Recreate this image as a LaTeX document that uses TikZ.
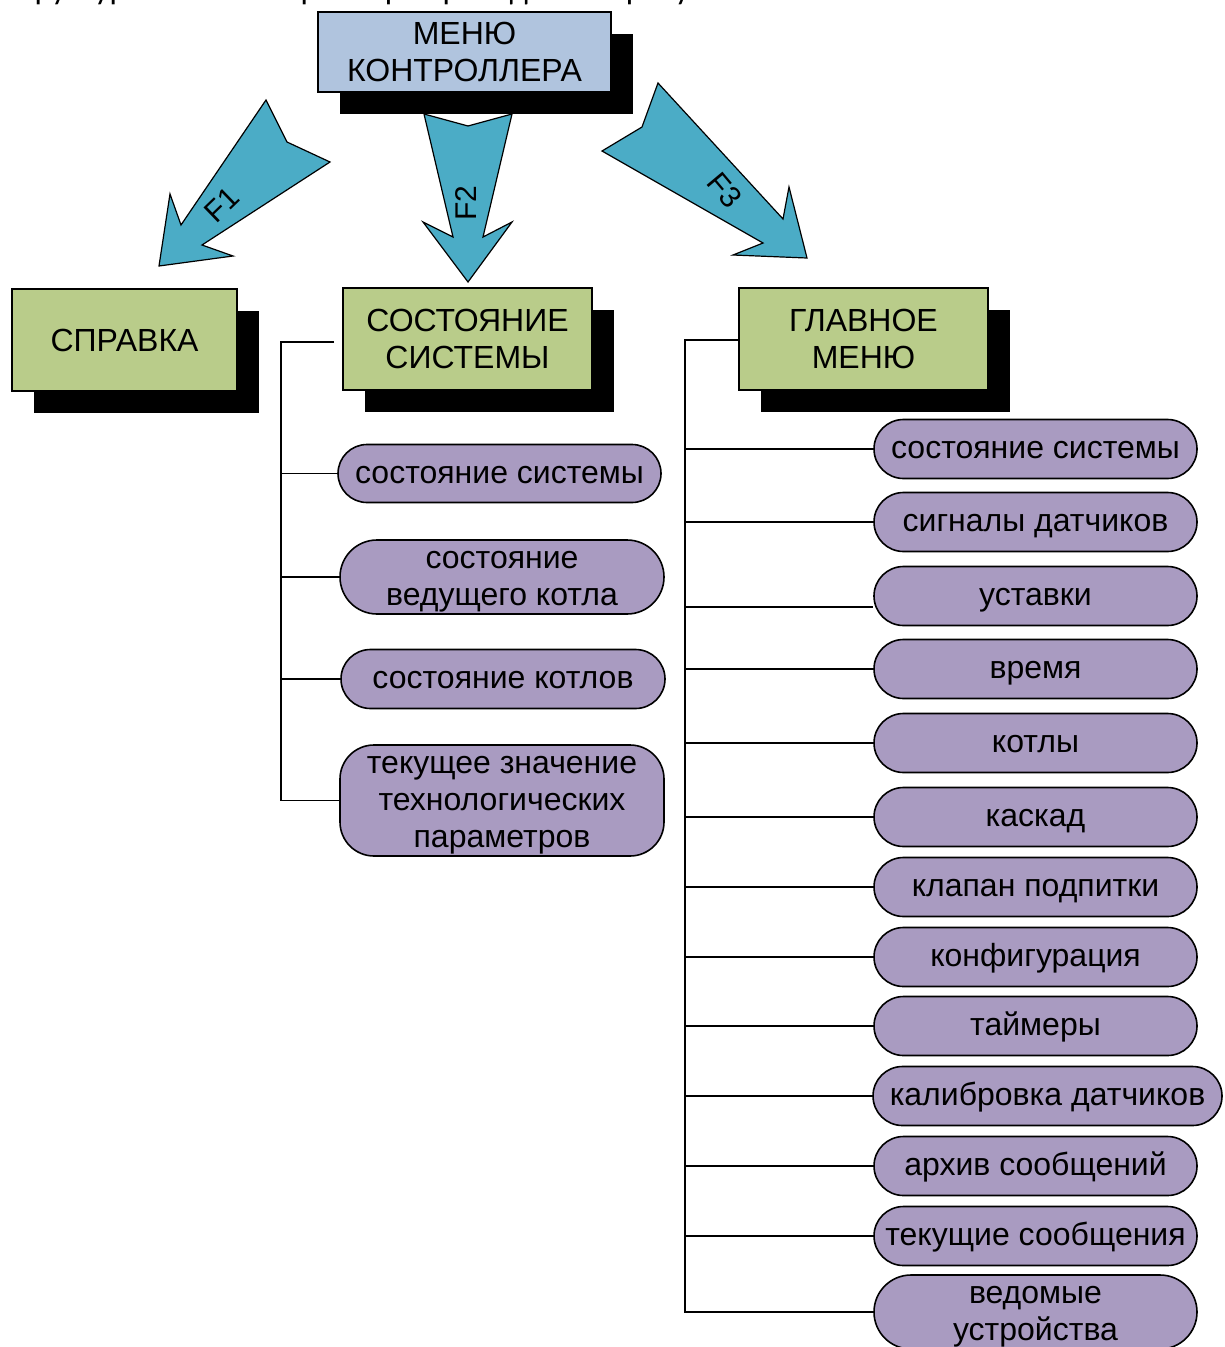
\documentclass[tikz,border=0pt]{standalone}
\usepackage{fontspec}
\setmainfont{Liberation Sans}
\newfontfamily\bodyfont{Carlito}
\usetikzlibrary{shapes.misc,shadows}
\definecolor{headblue}{RGB}{176,196,222}
\definecolor{boxgreen}{RGB}{185,204,138}
\definecolor{pilllilac}{RGB}{169,155,193}
\definecolor{arrowcyan}{RGB}{75,172,198}
\pgfdeclarelayer{background}
\pgfsetlayers{background,main}
% multi-line pill text, top-aligned on its first baseline, one strut per line
\newcommand{\pilllines}[1]{\begin{tabular}[t]{@{}c@{}}#1\end{tabular}}
\begin{document}
\begin{tikzpicture}[x=1pt,y=-1pt,
  lbl/.style={font=\fontsize{32}{37}\selectfont, align=center, text=black},
  menubox/.style={lbl, draw=black, line width=1.3pt, inner sep=0pt,
    drop shadow={shadow xshift=22pt, shadow yshift=-22pt, fill=black, opacity=1}},
  headbox/.style={menubox, fill=headblue},
  itembox/.style={menubox, fill=boxgreen},
  pillbase/.style={lbl, draw=black, line width=1.6pt, fill=pilllilac, inner sep=0pt,
    minimum width=323pt, minimum height=59pt, text height=28.3pt, text depth=8.7pt},
  pill/.style={pillbase, rounded rectangle},
  twolines/.style={text depth=45.7pt},
  threelines/.style={text depth=82.7pt},
  tallpill/.style={pillbase, rectangle, rounded corners=34pt},
  blockarrow/.style={draw=black, line width=1.2pt, fill=arrowcyan, line join=miter},
  keylbl/.style={font=\fontsize{30}{36}\selectfont, inner sep=0pt},
  conn/.style={draw=black, line width=1.5pt}]
\useasboundingbox (0,0) rectangle (1224,1347);
\clip (0,0) rectangle (1224,1347);

% caption line running off the top edge
\node[anchor=base west, inner sep=0pt, font=\bodyfont\fontsize{33}{40}\selectfont] (caption) at (4,-1)
  {Структура меню контроллера приведена на рисунке};

% function-key block arrows
\draw[blockarrow] (266,100) -- (287,142) -- (330,162) -- (202,245) -- (233,256)
  -- (159,266) -- (170,194) -- (181,225) -- cycle;
\draw[blockarrow] (424,114) -- (468,126) -- (512,114) -- (483,237) -- (512,222)
  -- (468,282) -- (423,222) -- (453,237) -- cycle;
\draw[blockarrow] (658,83) -- (642,127) -- (602,151) -- (763,243) -- (733,255)
  -- (807,258) -- (789,187) -- (783,219) -- cycle;
\node[keylbl, rotate=44] (f1) at (222,205) {F1};
\node[keylbl, rotate=90] (f2) at (466,203) {F2};
\node[keylbl, rotate=-50] (f3) at (725,190) {F3};

% top level
\node[headbox, minimum width=293pt, minimum height=80pt] (menu) at (464.5,52) {МЕНЮ\\КОНТРОЛЛЕРА};

% second level
\node[itembox, minimum width=225pt, minimum height=102pt] (help) at (124.5,340) {СПРАВКА};
\node[itembox, minimum width=249pt, minimum height=102pt] (sys) at (467.5,339) {СОСТОЯНИЕ\\СИСТЕМЫ};
\node[itembox, minimum width=249pt, minimum height=102pt] (main) at (863.5,339) {ГЛАВНОЕ\\МЕНЮ};

% items of "system state"
\node[pill, minimum height=58pt] (s1) at (499.5,473.5) {состояние системы};
\node[pill, twolines, minimum width=324pt, minimum height=70pt] (s2) at (502,577)
  {\pilllines{состояние\\ведущего котла}};
\node[pill, minimum width=324pt] (s3) at (503,679) {состояние котлов};
\node[tallpill, threelines, minimum width=324pt, minimum height=111pt] (s4) at (502,800.5)
  {\pilllines{текущее значение\\технологических\\параметров}};

% items of the main menu
\node[pill] (m1) at (1035.5,449) {состояние системы};
\node[pill] (m2) at (1035.5,522) {сигналы датчиков};
\node[pill] (m3) at (1035.5,596) {уставки};
\node[pill] (m4) at (1035.5,669) {время};
\node[pill] (m5) at (1035.5,743) {котлы};
\node[pill] (m6) at (1035.5,817) {каскад};
\node[pill] (m7) at (1035.5,887) {клапан подпитки};
\node[pill] (m8) at (1035.5,957) {конфигурация};
\node[pill] (m9) at (1035.5,1026) {таймеры};
\node[pill, minimum width=349pt] (m10) at (1047.5,1096) {калибровка датчиков};
\node[pill] (m11) at (1035.5,1166) {архив сообщений};
\node[pill] (m12) at (1035.5,1236) {текущие сообщения};
\node[pill, twolines, minimum height=70pt] (m13) at (1035.5,1312) {\pilllines{ведомые\\устройства}};

% tree connectors
\coordinate (strunk) at (281,342);
\coordinate (stop) at (334,342);
\coordinate (mtrunk) at (685,340);
\coordinate (m3in) at ([yshift=-11pt]m3.west);
\begin{pgfonlayer}{background}
  \draw[conn] (stop) -- (strunk) |- (s4.west);
  \foreach \n in {s1,s2,s3} \draw[conn] (strunk |- \n.west) -- (\n.west);
  \draw[conn] (main.west |- mtrunk) -- (mtrunk) |- (m13.west);
  \foreach \n in {m1,m2,m4,m5,m6,m7,m8,m9,m10,m11,m12}
    \draw[conn] (mtrunk |- \n.west) -- (\n.west);
  \draw[conn] (mtrunk |- m3in) -- (m3in);
\end{pgfonlayer}
\end{tikzpicture}
\end{document}
